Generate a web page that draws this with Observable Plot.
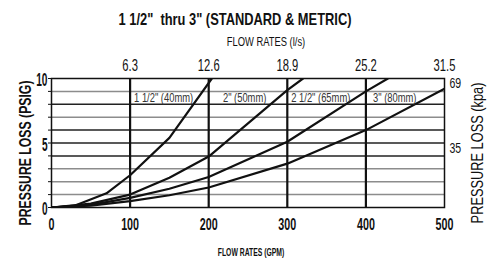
<!DOCTYPE html>
<html><head><meta charset="utf-8">
<script src="https://cdn.jsdelivr.net/npm/d3@7"></script>
<script src="https://cdn.jsdelivr.net/npm/@observablehq/plot@0.6"></script>
<style>
body{margin:0;background:#fff}
</style></head><body><div id="chart"></div>
<script>
const titleText = '1 1/2"  thru 3" (STANDARD & METRIC)';
const topTitle = "FLOW RATES (l/s)";
const bottomTitle = "FLOW RATES (GPM)";
const leftTitle = "PRESSURE LOSS (PSIG)";
const rightTitle = "PRESSURE LOSS (kpa)";

const gpmTicks = [0, 100, 200, 300, 400, 500];
const lpsTicks = [100, 200, 300, 400, 500];
const lpsLabels = ["6.3", "12.6", "18.9", "25.2", "31.5"];
const psiTicks = [0, 5, 10];
const psiMinor = [0, 1, 2, 3, 4, 5, 6, 7, 8, 9, 10];
const kpaTicks = [5, 10];
const kpaLabels = ["35", "69"];
const gridLight = [1, 2, 3, 7, 9];
const gridDark = [4, 5, 6, 8];
const gridVertical = [100, 200, 300, 400];

const sizes = ['1 1/2" (40mm)', '2" (50mm)', '2 1/2" (65mm)', '3" (80mm)'];
const labelGpm = [100, 213, 300, 404];
const labelPsi = [8.45, 8.45, 8.45, 8.45];

const gpm40 = [0, 30, 70, 100, 150, 204];
const psi40 = [0, 0.15, 1.1, 2.5, 5.4, 10];
const gpm50 = [0, 50, 100, 150, 200, 300, 320];
const psi50 = [0, 0.3, 1.0, 2.3, 3.95, 9.1, 10];
const gpm65 = [0, 50, 100, 150, 200, 300, 400, 428];
const psi65 = [0, 0.2, 0.75, 1.45, 2.36, 5.1, 9.0, 10];
const gpm80 = [0, 50, 100, 150, 200, 300, 400, 500];
const psi80 = [0, 0.15, 0.5, 0.95, 1.55, 3.4, 6.0, 9.2];

const series = [[gpm40, psi40], [gpm50, psi50], [gpm65, psi65], [gpm80, psi80]];
const curves = series.flatMap(([g, p], s) => g.map((v, i) => ({size: sizes[s], gpm: v, psi: p[i]})));
const labels = sizes.map((s, i) => ({text: s, gpm: labelGpm[i], psi: labelPsi[i]}));

const font = '"Liberation Sans", Arial, sans-serif';

const chart = Plot.plot({
  width: 494, height: 258,
  marginLeft: 51, marginRight: 50, marginTop: 78, marginBottom: 51,
  x: {domain: [0, 500]},
  y: {domain: [0, 10]},
  style: {fontFamily: font, background: "#fff", color: "#111"},
  marks: [
    Plot.ruleY(gridLight, {stroke: "#8c8c8c", strokeWidth: 1.5}),
    Plot.ruleY(gridDark, {stroke: "#222", strokeWidth: 1.5}),
    Plot.ruleX(gridVertical, {stroke: "#111", strokeWidth: 2.2}),
    Plot.frame({stroke: "#111", strokeWidth: 1.5}),
    Plot.line(curves, {x: "gpm", y: "psi", z: "size", stroke: "#111", strokeWidth: 2.2, clip: true}),
    Plot.text(labels, {x: "gpm", y: "psi", text: "text", textAnchor: "start", dx: 4, fontSize: 12, fill: "#333"}),
    Plot.axisX({ticks: gpmTicks, tickSize: 0, tickPadding: 10, fontWeight: "bold", fontSize: 17, label: null}),
    Plot.axisX({anchor: "top", ticks: lpsTicks, tickFormat: d => lpsLabels[lpsTicks.indexOf(d)], tickSize: 0, tickPadding: 8, fontSize: 16, label: null}),
    Plot.axisY({ticks: psiMinor, tickSize: 3, tickFormat: () => "", label: null}),
    Plot.axisY({ticks: psiTicks, tickSize: 0, tickPadding: 4, fontWeight: "bold", fontSize: 17.5, dy: 2, label: null}),
    Plot.axisY({anchor: "right", ticks: kpaTicks, tickFormat: d => kpaLabels[kpaTicks.indexOf(d)], tickSize: 0, tickPadding: 5, fontSize: 15, dy: 5, label: null}),
    Plot.text([titleText], {frameAnchor: "top", lineAnchor: "middle", textAnchor: "middle", dx: -13, dy: -59, fontWeight: "bold", fontSize: 16.5}),
    Plot.text([topTitle], {frameAnchor: "top", lineAnchor: "middle", textAnchor: "middle", dx: 18, dy: -36, fontSize: 12}),
    Plot.text([bottomTitle], {frameAnchor: "bottom", lineAnchor: "middle", textAnchor: "middle", dx: 3, dy: 45, fontWeight: "bold", fontSize: 10}),
    Plot.text([leftTitle], {frameAnchor: "left", lineAnchor: "middle", textAnchor: "middle", rotate: -90, dx: -26, dy: 10, fontWeight: "bold", fontSize: 17}),
    Plot.text([rightTitle], {frameAnchor: "right", lineAnchor: "middle", textAnchor: "middle", rotate: -90, dx: 33, dy: 10, fontSize: 16})
  ]
});
document.getElementById("chart").append(chart);
// narrow the glyphs, as in the reference's condensed typeface (factor by font size)
const squeeze = {"16.5px": 0.78, "12px": 0.78, "16px": 0.7, "17px": 0.72, "17.5px": 0.58, "15px": 0.7, "10px": 0.68};
const squeezeByRole = (t, size) => {
  if (size === "17px" && t.closest("g[aria-label='x-axis tick label']")) return 0.63;
  if (size === "16px" && !t.closest("g[aria-label='x-axis tick label']")) return 0.8;
  return squeeze[size] ?? 0.8;
};
chart.querySelectorAll("text").forEach(t => {
  const len = t.getComputedTextLength();
  if (len > 0) {
    const size = getComputedStyle(t).fontSize;
    t.setAttribute("lengthAdjust", "spacingAndGlyphs");
    t.setAttribute("textLength", (len * squeezeByRole(t, size)).toFixed(1));
  }
});
</script></body></html>
